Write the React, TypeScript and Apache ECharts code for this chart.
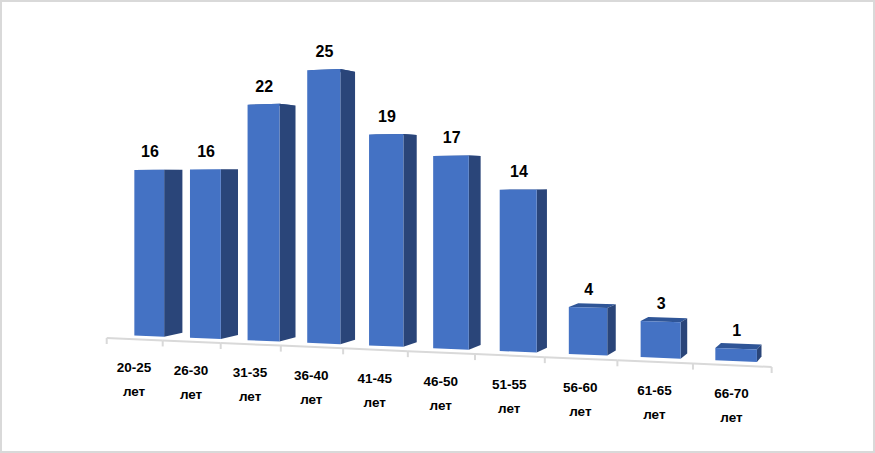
import React, { useEffect, useRef } from "react";
import * as echarts from "echarts";

const ageRanges = ["20-25", "26-30", "31-35", "36-40", "41-45", "46-50", "51-55", "56-60", "61-65", "66-70"];
const unitLabel = "лет";
const employees = [16, 16, 22, 25, 19, 17, 14, 4, 3, 1];

const WIDTH = 875;
const HEIGHT = 453;
// flat plot rectangle, bent into perspective by project()
const GRID = { left: 106.7, top: 23, width: 532, height: 315 };
const BAND = GRID.width / ageRanges.length;
const PERSPECTIVE = 0.01723;
const FLOOR_TILT = -3.42;
const VANISH_X = 917;
const VANISH_Y = 172;
const BAR_FILL = 0.54;
const Z_FRONT = 0.019;
const Z_BACK = 0.044;

const FRONT = "#4472C4";
const SIDE = "#2A4579";
const TOP = "#2F5597";
const AXIS = "#D9D9D9";

function project(fx: number, fy: number, z: number): number[] {
  const t = (fx - GRID.left) / BAND;
  const w = 1 - PERSPECTIVE * t + z;
  return [(fx + VANISH_X * z) / w, (fy + FLOOR_TILT * t + VANISH_Y * z) / w];
}

function renderBar(params: any, api: any) {
  const base = api.coord([api.value(0), 0]);
  const head = api.coord([api.value(0), api.value(1)]);
  const half = (api.size([1, 0])[0] * BAR_FILL) / 2;
  const xl = base[0] - half;
  const xr = base[0] + half;
  const p = (x: number, y: number, z: number) => project(x, y, z);
  const fbl = p(xl, base[1], Z_FRONT);
  const fbr = p(xr, base[1], Z_FRONT);
  const ftl = p(xl, head[1], Z_FRONT);
  const ftr = p(xr, head[1], Z_FRONT);
  const bbr = p(xr, base[1], Z_BACK);
  const btr = p(xr, head[1], Z_BACK);
  const btl = p(xl, head[1], Z_BACK);
  return {
    type: "group",
    children: [
      { type: "polygon", shape: { points: [ftl, ftr, btr, btl] }, style: { fill: TOP } },
      { type: "polygon", shape: { points: [fbr, bbr, btr, ftr] }, style: { fill: SIDE } },
      { type: "polygon", shape: { points: [fbl, fbr, ftr, ftl] }, style: { fill: FRONT } },
      {
        type: "text",
        x: (ftl[0] + ftr[0]) / 2 + 0.7,
        y: (ftl[1] + ftr[1]) / 2 - 18,
        style: {
          text: String(api.value(1)),
          fill: "#000000",
          font: 'bold 16px "Liberation Sans", Arial, sans-serif',
          align: "center",
          verticalAlign: "middle",
        },
      },
    ],
  };
}

function renderAxis(params: any, api: any) {
  const i = api.value(0);
  const base = api.coord([i, 0]);
  const band = api.size([1, 0])[0];
  const x0 = base[0] - band / 2;
  const x1 = base[0] + band / 2;
  const lineStyle = { stroke: AXIS, lineWidth: 2, fill: "none" };
  const a = project(x0, base[1], 0);
  const b = project(x1, base[1], 0);
  const tick = (x: number) => {
    const s = project(x, base[1], 0);
    return { type: "line", shape: { x1: s[0], y1: s[1], x2: s[0], y2: s[1] + 6 }, style: lineStyle };
  };
  const mid = project(base[0], base[1], 0);
  const children: any[] = [
    { type: "line", shape: { x1: a[0], y1: a[1], x2: b[0], y2: b[1] }, style: lineStyle },
    tick(x0),
  ];
  if (i === ageRanges.length - 1) children.push(tick(x1));
  children.push({
    type: "text",
    x: mid[0] - 0.4,
    y: mid[1] + 40.5,
    style: {
      text: `${ageRanges[i]}\n${unitLabel}`,
      fill: "#000000",
      font: 'bold 13.5px "Liberation Sans", Arial, sans-serif',
      lineHeight: 24,
      align: "center",
      verticalAlign: "middle",
    },
  });
  return { type: "group", children };
}

export default function App() {
  const ref = useRef<HTMLDivElement>(null);
  useEffect(() => {
    if (!ref.current) return;
    const chart = echarts.init(ref.current, undefined, { renderer: "svg" });
    chart.setOption({
      animation: false,
      backgroundColor: "#FFFFFF",
      grid: { ...GRID, containLabel: false },
      xAxis: { type: "category", data: ageRanges, show: false },
      yAxis: { type: "value", min: 0, max: 30, show: false },
      graphic: [
        {
          type: "rect",
          silent: true,
          shape: { x: 1, y: 1, width: WIDTH - 2, height: HEIGHT - 2 },
          style: { fill: "none", stroke: AXIS, lineWidth: 2 },
        },
      ],
      series: [
        {
          type: "custom",
          silent: true,
          renderItem: renderAxis,
          encode: { x: 0, y: 1 },
          data: ageRanges.map((_, i) => [i, 0]),
          z: 1,
        },
        {
          type: "custom",
          silent: true,
          renderItem: renderBar,
          encode: { x: 0, y: 1 },
          data: employees.map((v, i) => [i, v]),
          z: 2,
        },
      ],
    });
    return () => chart.dispose();
  }, []);
  return (
    <div
      ref={ref}
      style={{ position: "absolute", left: 0, top: 0, width: WIDTH, height: HEIGHT }}
    />
  );
}
